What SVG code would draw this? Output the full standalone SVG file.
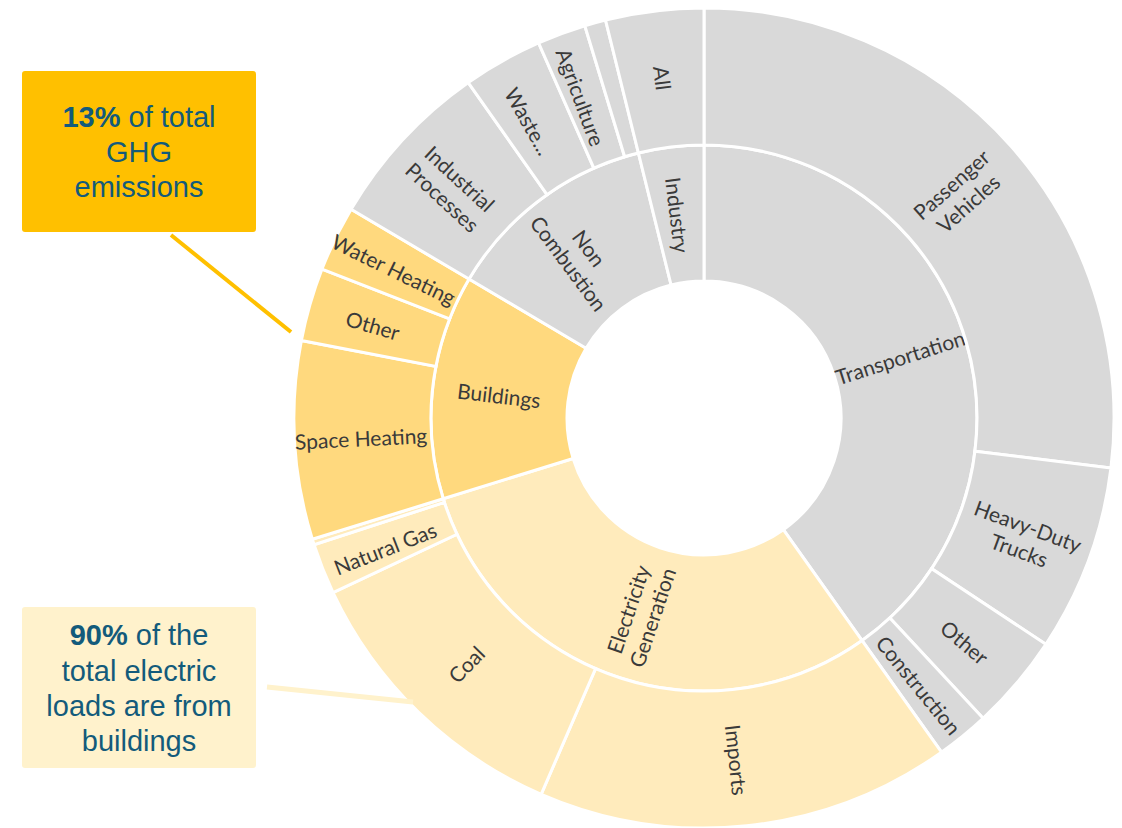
<svg xmlns="http://www.w3.org/2000/svg" width="1122" height="828" viewBox="0 0 1122 828">
<style>
.g{fill:#D9D9D9;stroke:#fff;stroke-width:3}
.b{fill:#FFD97E;stroke:#fff;stroke-width:3}
.e{fill:#FFEBBC;stroke:#fff;stroke-width:3}
.lb{font-family:Lato,"Open Sans",sans-serif;font-size:21px;fill:#3A3A3A;text-anchor:middle;dominant-baseline:central}
.co{font-family:"Liberation Sans",Arial,sans-serif;font-size:29px;fill:#135B7B;text-anchor:middle}
.bold{font-weight:bold}
</style>
<rect width="1122" height="828" fill="#fff"/>
<g id="chart">
<g id="transportation"><path class="g" d="M704,145 A273,273 0 0 1 862.14,640.53 L783.36,529.67 A137,137 0 0 0 704,281 Z"/><text class="lb" transform="translate(900,357) rotate(-17.7)">Transportation</text></g>
<g id="electricity"><path class="e" d="M862.14,640.53 A273,273 0 0 1 443.21,498.73 L573.13,458.51 A137,137 0 0 0 783.36,529.67 Z"/><text class="lb" transform="translate(639,613) rotate(-71.3)"><tspan x="0" y="-12.5">Electricity</tspan><tspan x="0" y="13">Generation</tspan></text></g>
<g id="buildings"><path class="b" d="M443.21,498.73 A273,273 0 0 1 469.02,279.03 L586.08,348.26 A137,137 0 0 0 573.13,458.51 Z"/><text class="lb" transform="translate(499,395) rotate(6.7)">Buildings</text></g>
<g id="noncombustion"><path class="g" d="M469.02,279.03 A273,273 0 0 1 638.42,152.99 L671.09,285.01 A137,137 0 0 0 586.08,348.26 Z"/><text class="lb" transform="translate(580,255) rotate(53.3)"><tspan x="0" y="-12.5">Non</tspan><tspan x="0" y="13">Combustion</tspan></text></g>
<g id="industry"><path class="g" d="M638.42,152.99 A273,273 0 0 1 704,145 L704,281 A137,137 0 0 0 671.09,285.01 Z"/><text class="lb" transform="translate(678,215) rotate(83)">Industry</text></g>

<g id="passenger"><path class="g" d="M704,8 A410,410 0 0 1 1110.95,467.97 L974.97,451.27 A273,273 0 0 0 704,145 Z"/><text class="lb" transform="translate(959,193) rotate(-41.5)"><tspan x="0" y="-12.5">Passenger</tspan><tspan x="0" y="13">Vehicles</tspan></text></g>
<g id="heavyduty"><path class="g" d="M1110.95,467.97 A410,410 0 0 1 1045.89,644.30 L931.65,568.68 A273,273 0 0 0 974.97,451.27 Z"/><text class="lb" transform="translate(1024,537) rotate(20.25)"><tspan x="0" y="-12.5">Heavy-Duty</tspan><tspan x="0" y="13">Trucks</tspan></text></g>
<g id="othertransport"><path class="g" d="M1045.89,644.30 A410,410 0 0 1 983.10,718.34 L889.84,617.98 A273,273 0 0 0 931.65,568.68 Z"/><text class="lb" transform="translate(965,642) rotate(40.3)">Other</text></g>
<g id="construction"><path class="g" d="M983.10,718.34 A410,410 0 0 1 941.50,752.20 L862.14,640.53 A273,273 0 0 0 889.84,617.98 Z"/><text class="lb" transform="translate(919,685) rotate(50.85)">Construction</text></g>
<g id="imports"><path class="e" d="M941.50,752.20 A410,410 0 0 1 541.17,794.28 L595.58,668.55 A273,273 0 0 0 862.14,640.53 Z"/><text class="lb" transform="translate(737,760) rotate(84)">Imports</text></g>
<g id="coal"><path class="e" d="M541.17,794.28 A410,410 0 0 1 333.02,592.57 L456.98,534.24 A273,273 0 0 0 595.58,668.55 Z"/><text class="lb" transform="translate(466,664) rotate(-45.9)">Coal</text></g>
<g id="naturalgas"><path class="e" d="M333.02,592.57 A410,410 0 0 1 314.07,544.70 L444.36,502.36 A273,273 0 0 0 456.98,534.24 Z"/><text class="lb" transform="translate(385,548) rotate(-21.35)">Natural Gas</text></g>
<g id="electricityother"><path class="e" d="M314.07,544.70 A410,410 0 0 1 312.34,539.24 L443.21,498.73 A273,273 0 0 0 444.36,502.36 Z"/></g>
<g id="spaceheating"><path class="b" d="M312.34,539.24 A410,410 0 0 1 301.40,340.47 L435.92,366.38 A273,273 0 0 0 443.21,498.73 Z"/><text class="lb" transform="translate(361,438) rotate(-2.8)">Space Heating</text></g>
<g id="otherbuildings"><path class="b" d="M301.40,340.47 A410,410 0 0 1 322.01,269.07 L449.65,318.83 A273,273 0 0 0 435.92,366.38 Z"/><text class="lb" transform="translate(373,325) rotate(16.1)">Other</text></g>
<g id="waterheating"><path class="b" d="M322.01,269.07 A410,410 0 0 1 351.10,209.29 L469.02,279.03 A273,273 0 0 0 449.65,318.83 Z"/><text class="lb" transform="translate(394,269) rotate(26)">Water Heating</text></g>
<g id="industrialprocesses"><path class="g" d="M351.10,209.29 A410,410 0 0 1 468.25,82.56 L547.02,194.65 A273,273 0 0 0 469.02,279.03 Z"/><text class="lb" transform="translate(452,187) rotate(42.75)"><tspan x="0" y="-12.5">Industrial</tspan><tspan x="0" y="13">Processes</tspan></text></g>
<g id="waste"><path class="g" d="M468.25,82.56 A410,410 0 0 1 538.54,42.87 L593.83,168.22 A273,273 0 0 0 547.02,194.65 Z"/><text class="lb" transform="translate(529,121) rotate(60.55)">Waste...</text></g>
<g id="agriculture"><path class="g" d="M538.54,42.87 A410,410 0 0 1 584.81,25.71 L624.64,156.79 A273,273 0 0 0 593.83,168.22 Z"/><text class="lb" transform="translate(581,97) rotate(69.65)">Agriculture</text></g>
<g id="noncombustionother"><path class="g" d="M584.81,25.71 A410,410 0 0 1 605.51,20.01 L638.42,152.99 A273,273 0 0 0 624.64,156.79 Z"/></g>
<g id="all"><path class="g" d="M605.51,20.01 A410,410 0 0 1 704,8 L704,145 A273,273 0 0 0 638.42,152.99 Z"/><text class="lb" transform="translate(663,78) rotate(83.1)">All</text></g>
</g>

<g id="connectors">
<line x1="171" y1="235" x2="291" y2="332" stroke="#FFC000" stroke-width="4"/>
<line x1="267" y1="687" x2="413" y2="702" stroke="#FFF2CC" stroke-width="5"/>
</g>

<g id="callout-ghg">
<rect x="22" y="71" width="234" height="161" rx="3" fill="#FFC000"/>
<text class="co" x="139" y="127"><tspan class="bold">13%</tspan> of total</text>
<text class="co" x="139" y="162">GHG</text>
<text class="co" x="139" y="197">emissions</text>
</g>
<g id="callout-electric">
<rect x="22" y="607" width="234" height="161" rx="3" fill="#FFF2CC"/>
<text class="co" x="139" y="645"><tspan class="bold">90%</tspan> of the</text>
<text class="co" x="139" y="681">total electric</text>
<text class="co" x="139" y="716">loads are from</text>
<text class="co" x="139" y="751">buildings</text>
</g>
</svg>
